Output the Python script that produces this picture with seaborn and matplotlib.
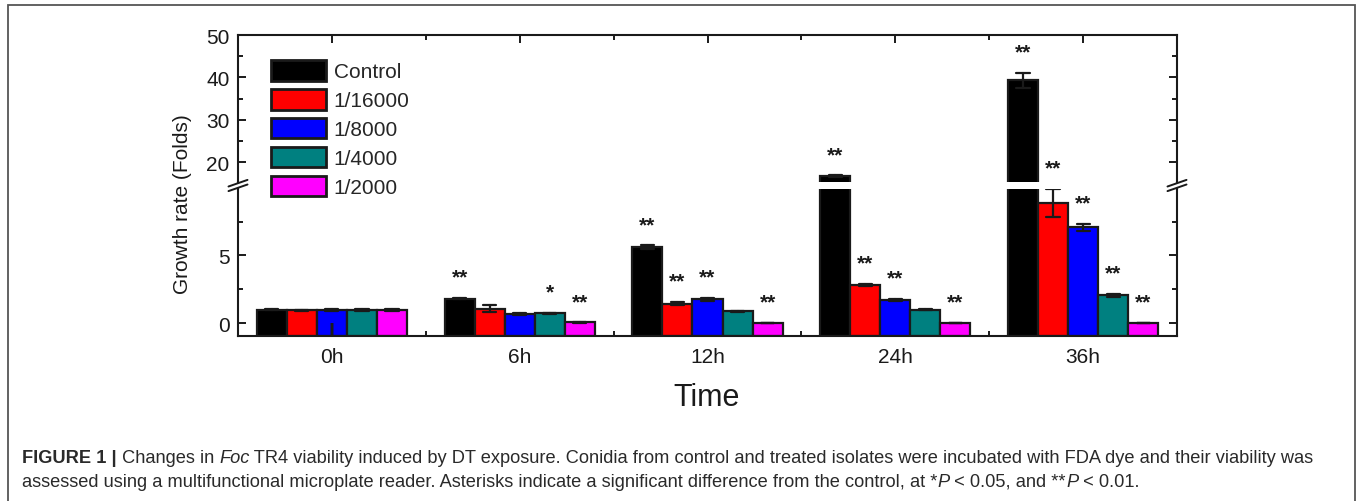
import numpy as np
import pandas as pd
import matplotlib
matplotlib.use("Agg")
import matplotlib.pyplot as plt
import seaborn as sns
from matplotlib.patches import Rectangle, Polygon
from matplotlib.lines import Line2D

# ---------------- data ----------------
times = ["0h", "6h", "12h", "24h", "36h"]
series = ["Control", "1/16000", "1/8000", "1/4000", "1/2000"]
colors = ["#000000", "#FF0000", "#0000FF", "#008080", "#FF00FF"]

control_mean = [1.00, 1.80, 5.62, 16.7, 39.3]
control_err = [0.04, 0.05, 0.12, 0.20, 1.80]
c16000_mean = [0.96, 1.06, 1.43, 2.83, 8.87]
c16000_err = [0.03, 0.25, 0.12, 0.08, 1.06]
c8000_mean = [0.97, 0.69, 1.77, 1.72, 7.07]
c8000_err = [0.07, 0.07, 0.12, 0.05, 0.25]
c4000_mean = [0.97, 0.74, 0.86, 0.99, 2.04]
c4000_err = [0.05, 0.04, 0.03, 0.04, 0.10]
c2000_mean = [0.95, 0.05, 0.03, 0.03, 0.03]
c2000_err = [0.06, 0.02, 0.01, 0.01, 0.01]

control_sig = ["", "**", "**", "**", "**"]
c16000_sig = ["", "", "**", "**", "**"]
c8000_sig = ["", "", "**", "**", "**"]
c4000_sig = ["", "*", "", "", "**"]
c2000_sig = ["", "**", "**", "**", "**"]

means = dict(zip(series, [control_mean, c16000_mean, c8000_mean, c4000_mean, c2000_mean]))
errs = dict(zip(series, [control_err, c16000_err, c8000_err, c4000_err, c2000_err]))
sigs = dict(zip(series, [control_sig, c16000_sig, c8000_sig, c4000_sig, c2000_sig]))

recs = []
for s in series:
    for t, m, e in zip(times, means[s], errs[s]):
        recs.append((t, s, m - e))
        recs.append((t, s, m + e))
df = pd.DataFrame(recs, columns=["time", "conc", "value"])

# ---------------- layout ----------------
W, H = 1357, 502
sns.set_theme(style="white")
plt.rcParams["font.family"] = ["Liberation Sans", "DejaVu Sans"]

fig = plt.figure(figsize=(W / 100, H / 100), dpi=100)
fig.patch.set_facecolor("white")


def fx(x):
    return x / W


def fy(y):
    return 1 - y / H


L, R, T, B = 238, 1177, 36, 337
GT, GB = 183, 190
LOW_LIM = (-0.95, 9.9)
TOP_LIM = (15.35, 50)

ax_top = fig.add_axes([fx(L), fy(GT), fx(R) - fx(L), fy(T) - fy(GT)])
ax_low = fig.add_axes([fx(L), fy(B), fx(R) - fx(L), fy(GB) - fy(B)])

for ax in (ax_top, ax_low):
    sns.barplot(
        data=df, x="time", y="value", hue="conc",
        order=times, hue_order=series, palette=colors, saturation=1,
        errorbar=lambda v: (v.min(), v.max()), capsize=0.35,
        err_kws={"color": "k", "linewidth": 1.6},
        edgecolor="k", linewidth=1.6, ax=ax, legend=(ax is ax_low),
    )
    # bars start at the bottom of the lower axis (Origin-style baseline)
    for p in ax.patches:
        if isinstance(p, Rectangle):
            top = p.get_y() + p.get_height()
            p.set_y(LOW_LIM[0])
            p.set_height(top - LOW_LIM[0])
    ax.set_xlim(-0.5, 4.5)
    ax.set_xlabel("")
    ax.set_ylabel("")
    ax.set_facecolor("none")
    for sp in ax.spines.values():
        sp.set_linewidth(1.5)
        sp.set_color("k")
    ax.set_xticks(range(len(times)))
    ax.set_xticks([i + 0.5 for i in range(len(times) - 1)], minor=True)
    ax.tick_params(which="both", direction="in", color="k", width=1.4,
                   left=True, right=True, labelsize=15, labelcolor="k")
    ax.tick_params(which="major", length=6)
    ax.tick_params(which="minor", length=3.8)
    ax.tick_params(axis="y", pad=6)

ax_low.set_ylim(*LOW_LIM)
ax_top.set_ylim(*TOP_LIM)
ax_low.set_yticks([0, 5])
ax_low.set_yticks([2.5, 7.5], minor=True)
ax_top.set_yticks([20, 30, 40, 50])
ax_top.set_yticks([25, 35, 45], minor=True)
ax_low.spines["top"].set_visible(False)
ax_top.spines["bottom"].set_visible(False)
ax_low.tick_params(axis="x", which="both", bottom=True, top=False, pad=8)
ax_top.tick_params(axis="x", which="both", top=True, bottom=False, labelbottom=False)
ax_low.set_xticklabels(times)

# significance stars
for p in ax_low.patches:
    if not isinstance(p, Rectangle):
        continue
    xc = p.get_x() + p.get_width() / 2
    j = int(round(xc))
    fc = matplotlib.colors.to_hex(p.get_facecolor())
    i = [c.lower() for c in colors].index(fc.lower())
    s = series[i]
    sig = sigs[s][j]
    if not sig:
        continue
    m, e = means[s][j], errs[s][j]
    tgt = ax_top if m > LOW_LIM[1] else ax_low
    tgt.annotate(sig, xy=(xc, m + e), xytext=(0, 11.0), textcoords="offset points",
                 ha="center", va="baseline", fontsize=15, fontweight="bold",
                 color="k", annotation_clip=False)

# legend (figure-level so it spans the axis break)
leg = ax_low.get_legend()
handles = leg.legend_handles
labels = [t.get_text() for t in leg.get_texts()]
leg.remove()
flg = fig.legend(handles, labels, loc="upper left", bbox_to_anchor=(fx(271), fy(61)),
                 frameon=False, fontsize=15, handlelength=2.65, handleheight=1.15,
                 labelspacing=0.36, handletextpad=0.36, borderpad=0, borderaxespad=0)
for h in flg.legend_handles:
    h.set_linewidth(2.0)
    h.set_edgecolor("k")

# axis labels
fig.text(fx(707), fy(398), "Time", ha="center", va="center", fontsize=22, color="k")
fig.text(fx(182), fy(204), "Growth rate (Folds)", ha="center", va="center",
         rotation=90, fontsize=15, color="k")

# connect spines across the break and draw break marks
for xs in (L, R):
    fig.add_artist(Line2D([fx(xs), fx(xs)], [fy(GT), fy(GB)], color="k", lw=1.5,
                          transform=fig.transFigure))
    cy = (GT + GB) / 2
    dx, rise, sep = 9.5, 3.3, 4.6
    a0 = (xs - dx, cy - sep / 2 + rise)
    a1 = (xs + dx, cy - sep / 2 - rise)
    b0 = (xs - dx, cy + sep / 2 + rise)
    b1 = (xs + dx, cy + sep / 2 - rise)
    poly = Polygon([(fx(a0[0]), fy(a0[1])), (fx(a1[0]), fy(a1[1])),
                    (fx(b1[0]), fy(b1[1])), (fx(b0[0]), fy(b0[1]))],
                   closed=True, facecolor="white", edgecolor="none",
                   transform=fig.transFigure, zorder=5)
    fig.add_artist(poly)
    for p0, p1 in ((a0, a1), (b0, b1)):
        fig.add_artist(Line2D([fx(p0[0]), fx(p1[0])], [fy(p0[1]), fy(p1[1])],
                              color="k", lw=1.4, transform=fig.transFigure, zorder=6))

# outer frame
fig.add_artist(Rectangle((fx(8), fy(H + 10)), fx(1355) - fx(8), fy(6) - fy(H + 10),
                         fill=False, edgecolor="#555555", lw=1.3,
                         transform=fig.transFigure, clip_on=False))

# caption
cap_color = "#2a2a2a"
line1 = [("FIGURE 1 |", "bold", "normal"), (" Changes in ", "normal", "normal"),
         ("Foc", "normal", "italic"),
         (" TR4 viability induced by DT exposure. Conidia from control and treated isolates "
          "were incubated with FDA dye and their viability was", "normal", "normal")]
line2 = [("assessed using a multifunctional microplate reader. Asterisks indicate a significant "
          "difference from the control, at *", "normal", "normal"),
         ("P", "normal", "italic"), (" < 0.05, and **", "normal", "normal"),
         ("P", "normal", "italic"), (" < 0.01.", "normal", "normal")]

renderer = fig.canvas.get_renderer()


def run_width(txt, weight, style, size):
    t1 = fig.text(0, 0, txt + "|", fontsize=size, fontweight=weight, fontstyle=style)
    t2 = fig.text(0, 0, "|", fontsize=size, fontweight=weight, fontstyle=style)
    w = t1.get_window_extent(renderer).width - t2.get_window_extent(renderer).width
    t1.remove()
    t2.remove()
    return w


base = 10.0
w1 = sum(run_width(t, wt, st, base) for t, wt, st in line1)
cap_size = base * (1318 - 22) / w1


def draw_line(runs, x0, ybase):
    x = x0
    for t, wt, st in runs:
        fig.text(fx(x), fy(ybase), t, fontsize=cap_size, fontweight=wt, fontstyle=st,
                 color=cap_color, ha="left", va="baseline")
        x += run_width(t, wt, st, cap_size)


draw_line(line1, 22, 463)
draw_line(line2, 22, 487)

fig.savefig("out.png", dpi=100, facecolor="white")
